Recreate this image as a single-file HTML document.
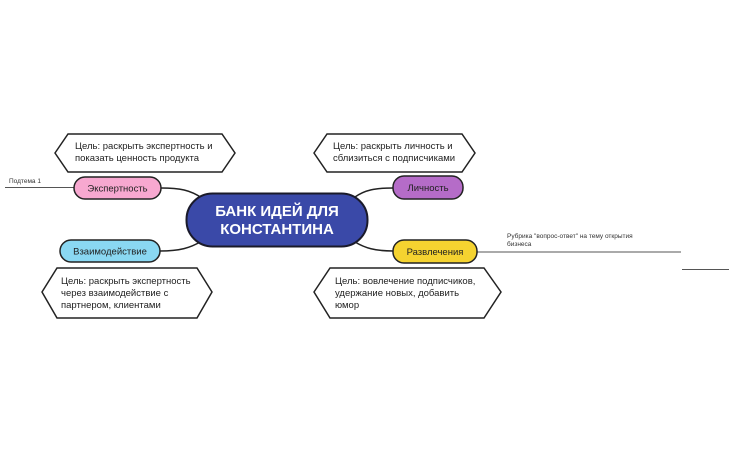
<!DOCTYPE html>
<html><head><meta charset="utf-8"><style>
body{margin:0;background:#fff;width:729px;height:451px;overflow:hidden}
svg text{font-family:"Liberation Sans",sans-serif}
</style></head><body>
<svg width="729" height="451" viewBox="0 0 729 451">
<g fill="none" stroke="#222" stroke-width="1.5">
<path d="M161,188 C180,188 190,190 202,198"/>
<path d="M160,251 C180,251 190,248 202,241"/>
<path d="M393,188 C375,188 365,190 355,197"/>
<path d="M393,251 C375,251 365,248 355,242"/>
</g>
<line x1="5" y1="187.5" x2="74" y2="187.5" stroke="#555" stroke-width="1"/>
<line x1="477" y1="252" x2="681" y2="252" stroke="#555" stroke-width="1"/>
<line x1="682" y1="269.5" x2="729" y2="269.5" stroke="#555" stroke-width="1"/>
<text x="9" y="183" font-size="6.5" fill="#333">Подтема 1</text>
<text x="507" y="238" font-size="6.5" fill="#333">Рубрика "вопрос-ответ" на тему открытия</text>
<text x="507" y="246" font-size="6.5" fill="#333">бизнеса</text>
<g fill="#fff" stroke="#222" stroke-width="1.5">
<polygon points="55,153 68,134 222,134 235,153 222,172 68,172"/>
<polygon points="314,153 327,134 462,134 475,153 462,172 327,172"/>
<polygon points="42,292 57,268 197,268 212,292 197,318 57,318"/>
<polygon points="314,292 330,268 484,268 501,292 484,318 330,318"/>
</g>
<g font-size="9.5" fill="#222">
<text x="75" y="149">Цель: раскрыть экспертность и</text>
<text x="75" y="161">показать ценность продукта</text>
<text x="333" y="149">Цель: раскрыть личность и</text>
<text x="333" y="161">сблизиться с подписчиками</text>
<text x="61" y="284">Цель: раскрыть экспертность</text>
<text x="61" y="296">через взаимодействие с</text>
<text x="61" y="308">партнером, клиентами</text>
<text x="335" y="284">Цель: вовлечение подписчиков,</text>
<text x="335" y="296">удержание новых, добавить</text>
<text x="335" y="308">юмор</text>
</g>
<rect x="186.5" y="193.5" width="181" height="53" rx="26" fill="#3a49a8" stroke="#1a1a2a" stroke-width="2"/>
<text x="277" y="216" font-size="15" font-weight="bold" fill="#fff" text-anchor="middle">БАНК ИДЕЙ ДЛЯ</text>
<text x="277" y="234" font-size="15" font-weight="bold" fill="#fff" text-anchor="middle">КОНСТАНТИНА</text>
<g stroke="#222" stroke-width="1.5">
<rect x="74" y="177" width="87" height="22" rx="11" fill="#f7a8d0"/>
<rect x="60" y="240" width="100" height="22" rx="11" fill="#8ad8f2"/>
<rect x="393" y="176" width="70" height="23" rx="11" fill="#b56cc8"/>
<rect x="393" y="240" width="84" height="23" rx="11" fill="#f5d330"/>
</g>
<g font-size="9.5" fill="#222" text-anchor="middle">
<text x="117.5" y="191.5">Экспертность</text>
<text x="110" y="254.5">Взаимодействие</text>
<text x="428" y="191">Личность</text>
<text x="435" y="255">Развлечения</text>
</g>
</svg>
</body></html>
